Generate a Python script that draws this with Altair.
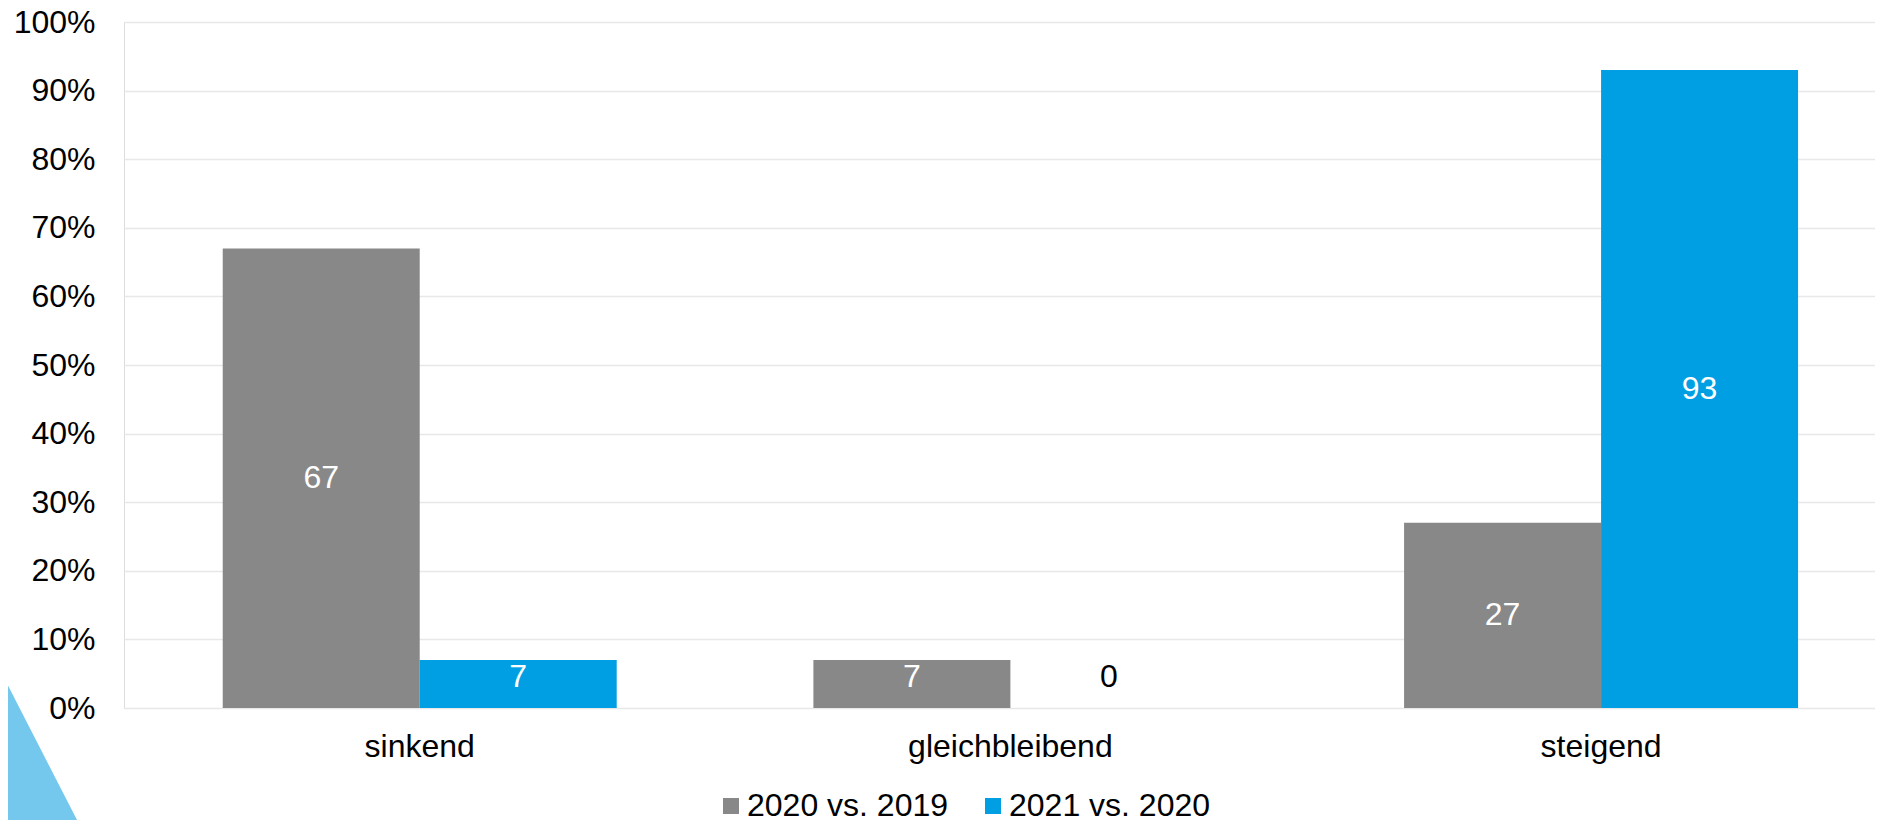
import altair as alt
import pandas as pd

categories = ["sinkend", "gleichbleibend", "steigend"]
series = ["2020 vs. 2019", "2021 vs. 2020"]
values_2020_vs_2019 = [67, 7, 27]
values_2021_vs_2020 = [7, 0, 93]
y_ticks = [0, 10, 20, 30, 40, 50, 60, 70, 80, 90, 100]
colors = ["#888888", "#009FE3"]

rows = []
for c, v in zip(categories, values_2020_vs_2019):
    rows.append({"kategorie": c, "serie": series[0], "wert": v})
for c, v in zip(categories, values_2021_vs_2020):
    rows.append({"kategorie": c, "serie": series[1], "wert": v})
df = pd.DataFrame(rows)

FONT = "Liberation Sans"
FS = 32

x_enc = alt.X(
    "kategorie:N",
    sort=categories,
    title=None,
    scale=alt.Scale(paddingInner=0.333, paddingOuter=0.1487, align=0.562),
    axis=alt.Axis(labelAngle=0, labelFontSize=FS, labelColor="#000000", labelFont=FONT,
                  ticks=False, domain=False, labelPadding=23, grid=False, labelLimit=600),
)
xoff = alt.XOffset("serie:N", sort=series, scale=alt.Scale(paddingInner=0, paddingOuter=0))

bars = alt.Chart(df).mark_bar().encode(
    x=x_enc,
    xOffset=xoff,
    y=alt.Y(
        "wert:Q",
        title=None,
        scale=alt.Scale(domain=[0, 100], nice=False),
        axis=alt.Axis(values=y_ticks, labelExpr="datum.value + '%'", labelFontSize=FS,
                      labelColor="#000000", labelFont=FONT, ticks=False, domain=False,
                      labelPadding=29, grid=True, gridColor="#e8e8e8", gridWidth=1.5),
    ),
    color=alt.Color(
        "serie:N",
        sort=series,
        scale=alt.Scale(domain=series, range=colors),
        legend=alt.Legend(orient="none", legendX=591, legendY=768, direction="horizontal",
                          title=None, symbolType="square", symbolSize=256,
                          symbolStrokeWidth=0, labelFontSize=FS, labelFont=FONT,
                          labelColor="#000000", labelOffset=0, columnPadding=28,
                          padding=0, labelLimit=600),
    ),
)

labels = alt.Chart(df).transform_calculate(
    labpos="max(datum.wert / 2, 4.5)"
).mark_text(fontSize=FS, font=FONT, baseline="middle", align="center").encode(
    x=alt.X("kategorie:N", sort=categories),
    xOffset=alt.XOffset("serie:N", sort=series),
    y=alt.Y("labpos:Q"),
    text=alt.Text("wert:Q"),
    color=alt.condition(alt.datum.wert == 0, alt.value("#000000"), alt.value("#ffffff")),
)

deco = alt.Chart(pd.DataFrame({"d": [0]})).mark_point(
    shape="M-1,-1 L0.027,1 L-1,1 Z", filled=True, opacity=1, strokeWidth=0,
    fill="#74C8ED", size=22500
).encode(x=alt.value(-49), y=alt.value(723))

chart = alt.layer(deco, bars, labels).properties(
    width=1751, height=686,
    autosize=alt.AutoSizeParams(type="none"),
    padding={"left": 116, "top": 14, "right": 0, "bottom": 112},
).configure_view(stroke=None).configure(background="#ffffff")

chart.save("out.html", embed_options={"renderer": "svg", "actions": False})
